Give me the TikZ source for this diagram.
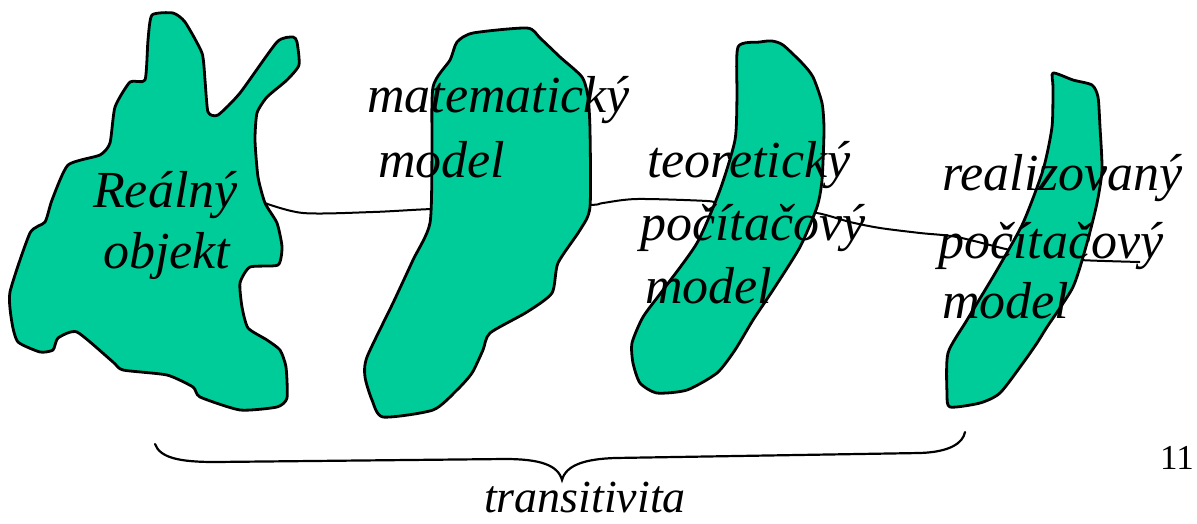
\documentclass[tikz,border=0pt]{standalone}
\usepackage{fontspec}
\setmainfont{Liberation Serif}
\definecolor{blobgreen}{RGB}{0,204,153}
\begin{document}
\begin{tikzpicture}[x=1pt,y=-1pt,
  blob/.style={draw=black,fill=blobgreen,line width=2.8pt,line join=round},
  link/.style={draw=black,line width=2pt},
  lbl/.style={anchor=base west,inner sep=0pt,font=\fontsize{52}{63}\selectfont\itshape},
  bracestyle/.style={draw=black,line width=2.2pt,line cap=round}]
\useasboundingbox[fill=white] (0,0) rectangle (1197,523);

% connector points
\coordinate (c1) at (262,202);
\coordinate (c2) at (432,209);
\coordinate (c3) at (590,205);
\coordinate (c4) at (720,204);
\coordinate (c5) at (817,213);
\coordinate (c6) at (1010,250);
\coordinate (c7) at (1080,260);
\coordinate (cend) at (1140,262);

\draw[link] plot[smooth,tension=0.5] coordinates {(262,202) (303,213) (373,212) (432,209) (510,207) (590,205) (603,203) (637,199) (707,201) (720,204) (770,208) (817,213) (850,222) (880,228) (920,233) (957,237) (1010,250) (1045,256) (1080,260) (1140,262)};

% blobs
\path[blob] plot[smooth cycle,tension=0.35] coordinates {(152,15) (173,13) (185,22) (202,53) (205,80) (208,112) (218,115) (240,93) (277,42) (293,37) (297,42) (299,65) (287,80) (267,97) (257,113) (255,140) (258,177) (265,203) (277,223) (282,247) (278,265) (250,267) (240,283) (242,307) (248,328) (267,340) (280,350) (286,367) (287,398) (277,407) (240,410) (200,397) (193,387) (167,375) (123,370) (113,362) (77,332) (58,338) (53,350) (40,352) (18,342) (12,323) (10,292) (30,233) (45,222) (52,200) (68,165) (100,155) (110,143) (115,107) (130,82) (145,80) (148,40)};

\path[blob] plot[smooth cycle,tension=0.4] coordinates {(457,42) (473,33) (527,28) (540,38) (560,57) (582,77) (588,97) (590,130) (590,207) (580,230) (558,263) (552,293) (527,312) (490,333) (483,350) (472,373) (457,390) (433,410) (383,417) (372,400) (365,377) (367,357) (393,303) (413,260) (430,223) (432,153) (433,87) (450,60)};

\path[blob] plot[smooth cycle,tension=0.4] coordinates {(738,47) (760,42) (772,41) (783,45) (802,63) (813,77) (822,103) (824,130) (822,180) (817,207) (800,247) (773,290) (753,320) (735,350) (717,373) (687,390) (657,393) (640,383) (633,363) (632,343) (643,317) (663,290) (697,243) (720,190) (735,140) (737,97)};

\path[blob] plot[smooth cycle,tension=0.4] coordinates {(1053,73) (1073,80) (1092,85) (1098,97) (1100,127) (1102,170) (1097,203) (1087,243) (1073,287) (1047,327) (1037,343) (1023,363) (1000,393) (980,403) (950,407) (947,393) (948,353) (967,320) (997,270) (1023,223) (1043,170) (1052,127) (1053,87)};

% labels
\node[lbl] (r1) at (93,207) {Reálný};
\node[lbl] (r2) at (103,268) {objekt};
\node[lbl] (m1) at (367,112) {matematický};
\node[lbl] (m2) at (378,177) {model};
\node[lbl] (t1) at (647,177) {teoretický};
\node[lbl] (t2) at (640,240) {počítačový};
\node[lbl] (t3) at (645,303) {model};
\node[lbl] (z1) at (942,190) {realizovaný};
\node[lbl] (z2) at (938,258) {počítačový};
\node[lbl] (z3) at (942,318) {model};

% brace
\coordinate (bl) at (155,444);
\coordinate (bt) at (562,480);
\coordinate (br) at (965,432);
\draw[bracestyle] (bl) .. controls (160,458) and (180,462) .. (215,462) -- (505,459) .. controls (540,459) and (558,465) .. (bt) .. controls (566,465) and (585,459) .. (615,458) -- (920,453) .. controls (950,452) and (963,443) .. (br);

\node[anchor=base,inner sep=0pt,font=\fontsize{46}{54}\selectfont\itshape] (trans) at (585,512) {transitivita};
\node[anchor=base west,inner sep=0pt,font=\fontsize{35}{40}\selectfont] (pg) at (1160,469) {11};
\end{tikzpicture}
\end{document}
